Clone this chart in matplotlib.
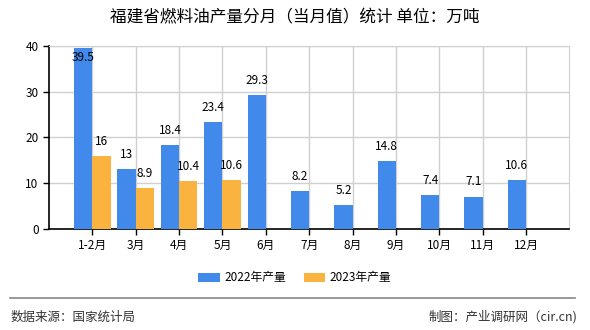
import matplotlib
matplotlib.use('Agg')
import matplotlib.pyplot as plt
import numpy as np

plt.rcParams['font.family'] = ['Noto Sans CJK SC', 'DejaVu Sans']

months = ['1-2月', '3月', '4月', '5月', '6月', '7月', '8月', '9月', '10月', '11月', '12月']
prod_2022 = [39.5, 13, 18.4, 23.4, 29.3, 8.2, 5.2, 14.8, 7.4, 7.1, 10.6]
prod_2023 = [16, 8.9, 10.4, 10.6]
labels_2022 = ['39.5', '13', '18.4', '23.4', '29.3', '8.2', '5.2', '14.8', '7.4', '7.1', '10.6']
labels_2023 = ['16', '8.9', '10.4', '10.6']

blue = '#418AEC'
orange = '#FBB33F'

fig = plt.figure(figsize=(5.9, 3.3), dpi=100)
ax = fig.add_axes([0.083, 0.306, 0.882, 0.555])

x = np.arange(len(months))
w = 0.42
b1 = ax.bar(x - w / 2, prod_2022, width=w, color=blue, label='2022年产量', zorder=3)
x2 = np.arange(len(prod_2023))
b2 = ax.bar(x2 + w / 2, prod_2023, width=w, color=orange, label='2023年产量', zorder=3)

for xi, v, t in zip(x, prod_2022, labels_2022):
    if v > 38:
        ax.text(xi - w / 2, v - 0.6, t, ha='center', va='top', fontsize=8.5, zorder=4)
    else:
        ax.text(xi - w / 2, v + 1.8, t, ha='center', va='bottom', fontsize=8.5, zorder=4)
for xi, v, t in zip(x2, prod_2023, labels_2023):
    ax.text(xi + w / 2, v + 1.8, t, ha='center', va='bottom', fontsize=8.5, zorder=4)

ax.set_xlim(-1, 11)
ax.set_ylim(0, 40)
ax.set_yticks([0, 10, 20, 30, 40])
ax.set_xticks(x)
ax.set_xticklabels(months, fontsize=8.5)
ax.tick_params(axis='y', labelsize=8.5, length=4, width=1, colors='black')
ax.tick_params(axis='x', length=4, width=1)
ax.grid(True, color='#d0d0d0', linewidth=1, zorder=0)
for s in ['top', 'right']:
    ax.spines[s].set_color('#d0d0d0')
for s in ['left', 'bottom']:
    ax.spines[s].set_color('black')
    ax.spines[s].set_linewidth(1.2)

fig.text(0.5, 0.945, '福建省燃料油产量分月（当月值）统计 单位：万吨', ha='center', va='center', fontsize=12)

fig.legend(handles=[b1, b2], loc='center', bbox_to_anchor=(0.5, 0.158), ncol=2, frameon=False,
           fontsize=8.5, handlelength=1.8, handleheight=0.8, handletextpad=0.4, columnspacing=1.5)

fig.add_artist(plt.Line2D([0.017, 0.975], [0.097, 0.097], color='#888888', linewidth=1.2))
fig.text(0.017, 0.04, '数据来源：国家统计局', ha='left', va='center', fontsize=9, color='#333333')
fig.text(0.978, 0.04, '制图：产业调研网（cir.cn)', ha='right', va='center', fontsize=9, color='#333333')

fig.savefig('out.png', dpi=100)
